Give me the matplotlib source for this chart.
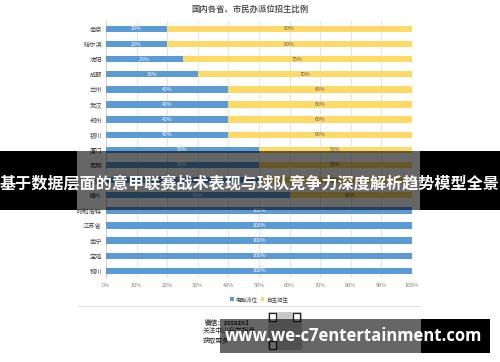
import matplotlib.pyplot as plt
from matplotlib.patches import Rectangle
import numpy as np

plt.rcParams['font.family'] = ['Noto Sans CJK SC', 'DejaVu Sans']

cities = ["南京", "哈尔滨", "沈阳", "成都", "兰州", "武汉", "郑州", "银川", "厦门",
          "昆明", "大连", "福州", "呼和浩特", "江苏省", "南宁", "宝鸡", "铜川"]
computer = [20, 20, 25, 30, 40, 40, 40, 40, 50, 50, 50, 60, 100, 100, 100, 100, 100]
independent = [80, 80, 75, 70, 60, 60, 60, 60, 50, 50, 50, 40, 0, 0, 0, 0, 0]
xticks = [0, 10, 20, 30, 40, 50, 60, 70, 80, 90, 100]

blue = "#5B9BD5"
yellow = "#FFD966"

fig = plt.figure(figsize=(5, 3.62), dpi=100)
ax = fig.add_axes([0.212, 0.231, 0.612, 0.71])

y = np.arange(len(cities))
ax.barh(y, computer, height=0.42, color=blue, label="电脑派位", zorder=3)
ax.barh(y, independent, left=computer, height=0.42, color=yellow, label="自主招生", zorder=3)

for i in range(len(cities)):
    ax.text(computer[i] / 2, y[i], f"{computer[i]}%", ha="center", va="center",
            fontsize=3.8, color="white", zorder=4)
    if independent[i] > 0:
        ax.text(computer[i] + independent[i] / 2, y[i], f"{independent[i]}%",
                ha="center", va="center", fontsize=3.8, color="#595959", zorder=4)

ax.set_xlim(0, 100)
ax.set_ylim(len(cities) - 0.5, -0.5)
ax.set_yticks(y)
ax.set_yticklabels(cities, fontsize=4.5, color="#404040")
ax.set_xticks(xticks)
ax.set_xticklabels([f"{t}%" for t in xticks], fontsize=4, color="#808080")
ax.tick_params(length=0, pad=3)
ax.xaxis.grid(True, color="#e0e0e0", linewidth=0.6, zorder=0)
for s in ["top", "right", "bottom"]:
    ax.spines[s].set_visible(False)
ax.spines["left"].set_color("#d0d0d0")
ax.spines["left"].set_linewidth(0.6)

fig.text(0.5, 0.973, "国内各省、市民办派位招生比例", ha="center", va="center",
         fontsize=6, color="#595959", fontweight="bold")
ax.legend(loc="upper center", bbox_to_anchor=(0.5, -0.05), ncol=2, frameon=False,
          fontsize=4, handlelength=0.6, handleheight=0.6, columnspacing=0.6,
          handletextpad=0.3, labelcolor="#404040")

# separator line and footer
fig.add_artist(plt.Line2D([0.155, 0.84], [1 - 306 / 362] * 2, color="#e0e0e0", lw=0.7))
fig.text(0.50, 1 - 322 / 362, "微信：zssxzn1", ha="right", va="center", fontsize=4.8,
         fontweight="bold", color="#303030")
fig.text(0.405, 1 - 331 / 362, "关注中山升学指南", ha="left", va="center", fontsize=4.8,
         color="#303030")
fig.text(0.405, 1 - 341 / 362, "获取更多", ha="left", va="center", fontsize=4.8,
         color="#303030")
# qr code sketch
qx, qy = 268 / 500, 1 - 350 / 362
fig.patches.append(Rectangle((qx, qy), 34 / 500, 38 / 362, transform=fig.transFigure,
                             facecolor="#c8c8c8", edgecolor="none"))
for fx, fy in [(1, 29), (25, 29), (1, 1)]:
    fig.patches.append(Rectangle((qx + fx / 500, qy + fy / 362), 7 / 500, 8 / 362,
                                 transform=fig.transFigure, facecolor="white",
                                 edgecolor="#202020", lw=0.9))

# center banner overlay
y0, y1 = 1 - 210 / 362, 1 - 151 / 362
fig.patches.append(Rectangle((0, y0), 77 / 500, y1 - y0, transform=fig.transFigure,
                             facecolor="black", zorder=10))
fig.patches.append(Rectangle((420 / 500, y0), 80 / 500, y1 - y0, transform=fig.transFigure,
                             facecolor="black", zorder=10))
fig.patches.append(Rectangle((77 / 500, y0), 343 / 500, y1 - y0, transform=fig.transFigure,
                             facecolor="black", alpha=0.6, zorder=10))
fig.text(0.5, 1 - 183 / 362, "基于数据层面的意甲联赛战术表现与球队竞争力深度解析趋势模型全景",
         ha="center", va="center", fontsize=11.6, color="white", fontweight="bold", zorder=11)

# bottom url overlay
b0, b1 = 1 - 353 / 362, 1 - 319 / 362
fig.patches.append(Rectangle((220 / 500, b0), 201 / 500, b1 - b0, transform=fig.transFigure,
                             facecolor="black", alpha=0.6, zorder=10))
fig.patches.append(Rectangle((421 / 500, b0), 69 / 500, b1 - b0, transform=fig.transFigure,
                             facecolor="black", zorder=10))
fig.text(354 / 500, 1 - 336 / 362, "www.we-c7entertainment.com", ha="center", va="center",
         fontsize=12, color="white", fontweight="bold", family="Open Sans", zorder=11)

fig.savefig("out.png", dpi=100)
